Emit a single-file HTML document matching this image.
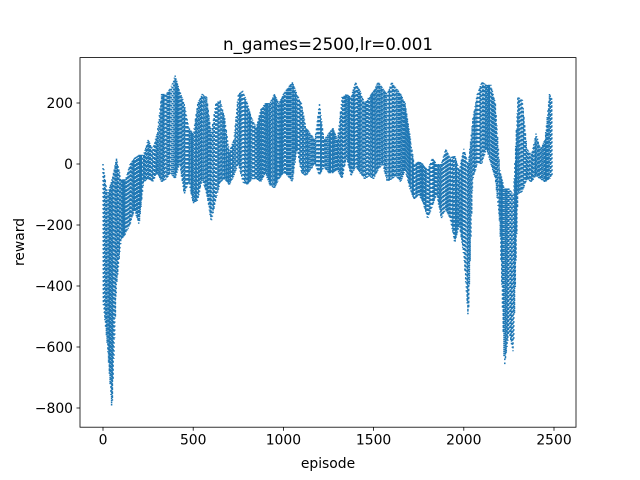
<!DOCTYPE html>
<html><head><meta charset="utf-8"><style>
body{margin:0;background:#fff}
svg{display:block;font-family:"DejaVu Sans","Liberation Sans",sans-serif}
</style></head><body>
<svg id="chart" width="640" height="480">
<rect x="0" y="0" width="640" height="480" fill="#fff"/>
<text x="328" y="50" font-size="16.7" text-anchor="middle">n_games=2500,lr=0.001</text>
<g id="plot"></g>
<text x="328" y="468" font-size="13.9" text-anchor="middle">episode</text>
<text x="0" y="0" font-size="13.9" text-anchor="middle" transform="translate(24,242) rotate(-90)">reward</text>
</svg>
<script>
const episodes = [];
for (let e = 0; e <= 2500; e += 25) episodes.push(e);
const highValues = [0,-100,-50,20,-50,-50,0,20,30,30,80,50,100,230,230,250,290,240,200,120,100,200,230,220,100,200,210,150,40,80,230,240,200,150,120,180,200,200,230,200,230,250,270,230,200,120,100,80,200,80,100,120,80,220,230,220,270,240,200,220,240,270,250,230,270,250,230,200,100,0,10,0,-20,20,0,0,50,20,30,-20,50,0,150,230,270,260,260,200,-20,-80,-80,-100,220,210,50,30,100,50,80,230,200];
const lowValues = [-450,-600,-810,-400,-250,-230,-200,-150,-200,-60,-50,-60,-30,-60,-50,-30,-50,0,-100,-60,-130,-120,-50,-100,-190,-120,-60,-50,-70,-40,0,-60,-70,-50,-50,-60,-30,-70,-80,-50,-30,-40,-60,50,-30,-40,-20,0,-40,-10,-30,-30,-20,-50,20,-40,-10,-30,-50,-40,-50,-20,0,-60,-50,-40,-60,-20,-80,-120,-100,-130,-180,-140,-100,-180,-150,-180,-260,-200,-300,-510,-50,0,0,50,0,-50,-200,-670,-550,-620,-100,-90,-50,-60,-40,-50,-60,-50,-30];
const xTicks = [0,500,1000,1500,2000,2500];
const yTicks = [-800,-600,-400,-200,0,200];

const L=80,R=576,T=57.6,B=427.2;
const xScale = e => 103 + e*(451/2500);
const yScale = v => 164 - v*0.305;
const NS='http://www.w3.org/2000/svg';
const plot=document.getElementById('plot');
function mk(tag,attrs){const el=document.createElementNS(NS,tag);for(const k in attrs)el.setAttribute(k,attrs[k]);return el;}

// series line
let pts=[];
const sub=12;
for(let i=0;i<episodes.length-1;i++){
  for(let j=0;j<sub;j++){
    const t=j/sub;
    const e=episodes[i]+t*(episodes[i+1]-episodes[i]);
    if(e>2490) break;
    const h=highValues[i]+t*(highValues[i+1]-highValues[i]);
    const l=lowValues[i]+t*(lowValues[i+1]-lowValues[i]);
    const v=(j%2===0)?h:l;
    pts.push(xScale(e).toFixed(1)+','+yScale(v).toFixed(1));
  }
}
const line=mk('polyline',{points:pts.join(' '),fill:'none',stroke:'#1f77b4','stroke-width':1.5,'stroke-dasharray':'1.5 2.5'});


plot.appendChild(line);

// frame
const frame=mk('rect',{x:L,y:T,width:R-L,height:B-T,fill:'none',stroke:'#000','stroke-width':0.8});


plot.appendChild(frame);

xTicks.forEach(t=>{
  const x=xScale(t);
  const tk=mk('line',{x1:x,x2:x,y1:B,y2:B+3.5,stroke:'#000','stroke-width':0.8});
  
  
  plot.appendChild(tk);
  const tx=mk('text',{x:x,y:B+17.5,'font-size':13.9,'text-anchor':'middle'});
  tx.textContent=t;
  
  
  plot.appendChild(tx);
});
yTicks.forEach(t=>{
  const y=yScale(t);
  const tk=mk('line',{x1:L-3.5,x2:L,y1:y,y2:y,stroke:'#000','stroke-width':0.8});
  
  
  plot.appendChild(tk);
  const tx=mk('text',{x:L-7,y:y+5,'font-size':13.9,'text-anchor':'end'});
  tx.textContent=t<0?'\u2212'+(-t):t;
  
  
  plot.appendChild(tx);
});
</script>
</body></html>
